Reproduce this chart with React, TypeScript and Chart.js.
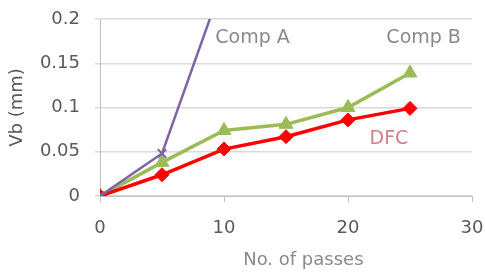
import React, { useEffect, useRef } from "react";
import { Chart, registerables } from "chart.js";

Chart.register(...registerables);

const passes = [0, 5, 10, 15, 20, 25];
const dfcValues = [0, 0.024, 0.053, 0.067, 0.086, 0.099];
const compBValues = [0, 0.038, 0.074, 0.081, 0.1, 0.139];
const compAPasses = [0, 5, 10];
const compAValues = [0, 0.048, 0.245];

const xTicks = [0, 10, 20, 30];
const yTicks = [0, 0.05, 0.1, 0.15, 0.2];

const seriesLabels = ["DFC", "Comp A", "Comp B"];
const noteTexts = ["Comp A", "Comp B", "DFC"];
const noteX = [12.3, 26.1, 23.3];
const noteY = [0.1785, 0.1785, 0.0644];
const noteColors = ["#8a8a8a", "#8a8a8a", "#d4808c"];

const FONT = "'DejaVu Sans', sans-serif";

export default function App() {
  const ref = useRef<HTMLCanvasElement | null>(null);

  useEffect(() => {
    if (!ref.current) return;
    const toPts = (xs: number[], ys: number[]) => xs.map((x, i) => ({ x, y: ys[i] }));

    const notesPlugin = {
      id: "notes",
      afterDatasetsDraw(chart: any) {
        const { ctx, scales } = chart;
        ctx.save();
        ctx.font = `19px ${FONT}`;
        ctx.textAlign = "center";
        ctx.textBaseline = "middle";
        noteTexts.forEach((t, i) => {
          ctx.fillStyle = noteColors[i];
          ctx.fillText(t, scales.x.getPixelForValue(noteX[i]), scales.y.getPixelForValue(noteY[i]));
        });
        // x axis title
        ctx.fillStyle = "#8a8a8a";
        ctx.font = `18px ${FONT}`;
        ctx.fillText("No. of passes", scales.x.getPixelForValue(16.4), 260);
        ctx.restore();
      },
    };

    const chart = new Chart(ref.current, {
      type: "line",
      data: {
        datasets: [
          {
            label: seriesLabels[1],
            data: toPts(compAPasses, compAValues),
            borderColor: "#8064A2",
            backgroundColor: "#8064A2",
            borderWidth: 2.5,
            pointStyle: "crossRot",
            pointRadius: 6,
            pointBorderWidth: 2,
          },
          {
            label: seriesLabels[0],
            data: toPts(passes, dfcValues),
            borderColor: "#FF0000",
            backgroundColor: "#FF0000",
            borderWidth: 3.5,
            pointStyle: "rectRot",
            pointRadius: 7,
            pointBorderWidth: 1,
          },
          {
            label: seriesLabels[2],
            data: toPts(passes, compBValues),
            borderColor: "#9BBB59",
            backgroundColor: "#9BBB59",
            borderWidth: 3.5,
            pointStyle: "triangle",
            pointRadius: 8,
            pointBorderWidth: 1,
          },
        ],
      },
      options: {
        animation: false,
        responsive: false,
        layout: { padding: { left: 0, right: 13, top: 19, bottom: 0 } },
        plugins: { legend: { display: false }, tooltip: { enabled: false } },
        scales: {
          x: {
            type: "linear",
            min: 0,
            max: 30,
            afterBuildTicks: (s: any) => {
              s.ticks = xTicks.map((v) => ({ value: v }));
            },
            afterFit: (s: any) => {
              s.height = 77;
              s.paddingLeft = 0;
              s.paddingRight = 0;
            },
            grid: {
              drawOnChartArea: false,
              drawTicks: true,
              tickLength: 6,
              color: "#BFBFBF",
            },
            border: { color: "#BFBFBF", width: 1 },
            ticks: {
              padding: 16,
              color: "#595959",
              font: { family: FONT, size: 18 },
              maxRotation: 0,
            },
            title: { display: false },
          },
          y: {
            min: 0,
            max: 0.2,
            afterBuildTicks: (s: any) => {
              s.ticks = yTicks.map((v) => ({ value: v }));
            },
            afterFit: (s: any) => {
              s.width = 100;
              s.paddingTop = 0;
              s.paddingBottom = 0;
            },
            grid: { color: "#D9D9D9", lineWidth: 1.5, tickLength: 5, drawTicks: true },
            border: { color: "#BFBFBF", width: 1 },
            ticks: {
              padding: 15,
              color: "#595959",
              font: { family: FONT, size: 18 },
              callback: (v: any) => String(Number(Number(v).toFixed(2))),
            },
            title: {
              display: true,
              text: "Vb (mm)",
              color: "#595959",
              font: { family: FONT, size: 18 },
              padding: { top: 7, bottom: 0 },
            },
          },
        },
      },
      plugins: [notesPlugin],
    } as any);

    return () => chart.destroy();
  }, []);

  return (
    <div style={{ position: "fixed", left: 0, top: 0, width: 485, height: 273, background: "#fff" }}>
      <canvas ref={ref} width={485} height={273} style={{ display: "block" }} />
    </div>
  );
}
